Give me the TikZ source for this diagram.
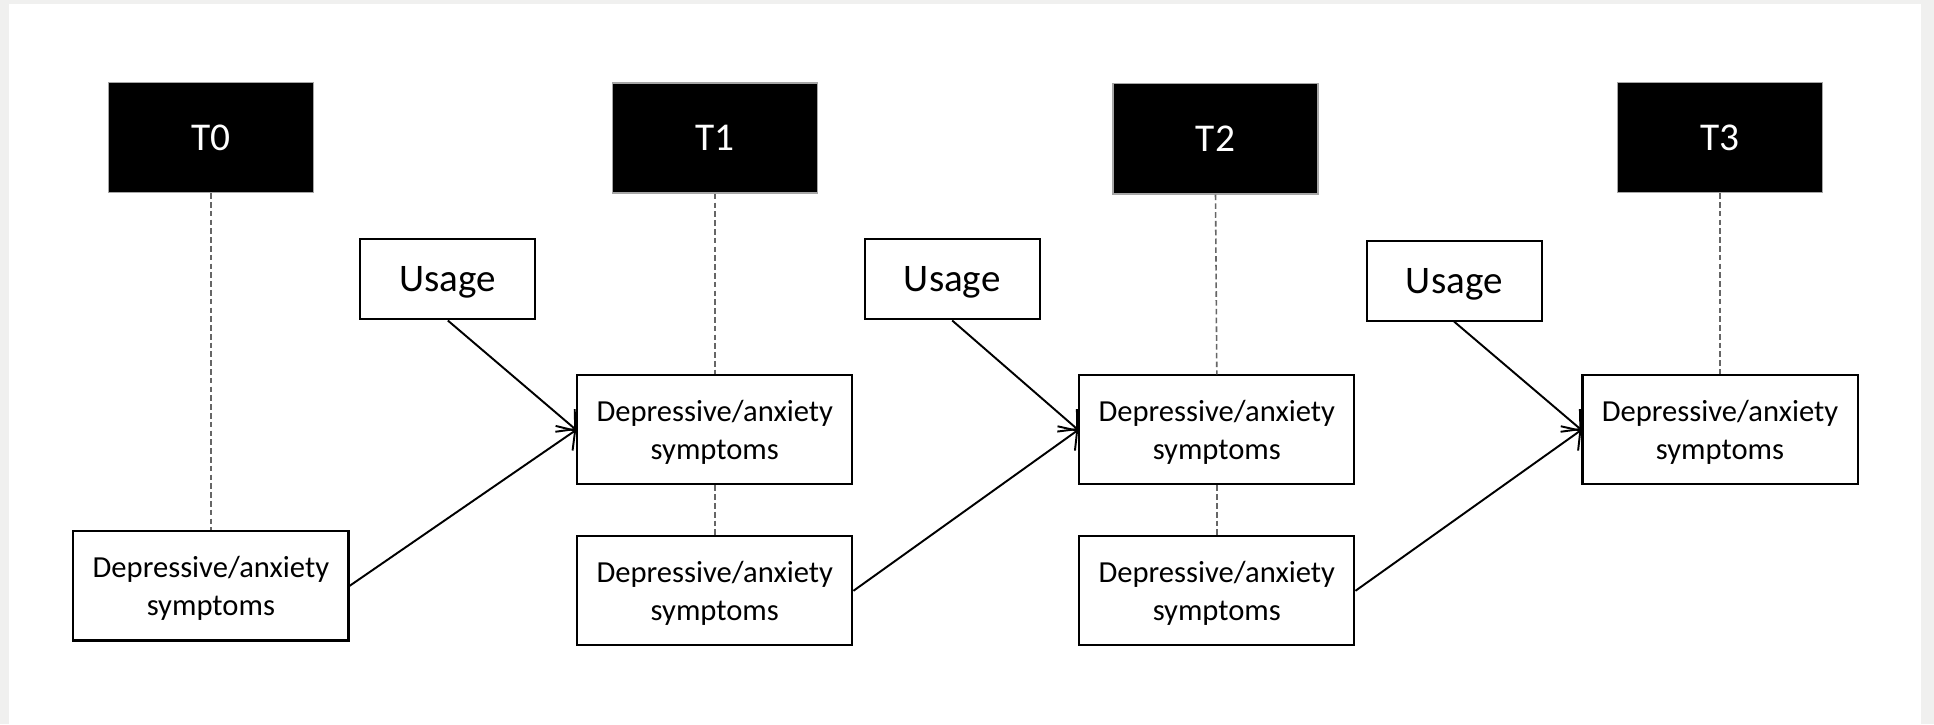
\documentclass[tikz,border=0pt]{standalone}
\usepackage{fontspec}
\setmainfont{Carlito}
\usetikzlibrary{arrows.meta}
\definecolor{pagegrey}{HTML}{F0F0EF}
\definecolor{dashgrey}{HTML}{666666}
\tikzset{
  tbox/.style={draw=gray!70, fill=black, text=white, line width=0.4pt,
    minimum width=2.05cm, minimum height=1.10cm, inner sep=0pt,
    font=\fontsize{11.2}{13}\selectfont},
  ubox/.style={draw=black, fill=white, line width=0.6pt,
    minimum width=1.75cm, minimum height=0.80cm, inner sep=0pt, text depth=0pt,
    font=\fontsize{11.1}{13}\selectfont},
  sbox/.style={draw=black, fill=white, line width=0.6pt, align=center,
    minimum width=2.75cm, minimum height=1.09cm, inner sep=0pt, text depth=0pt,
    font=\fontsize{8.7}{10.8}\selectfont},
  dashconn/.style={draw=dashgrey, line width=0.45pt, dash pattern=on 1.6pt off 0.9pt},
  arrconn/.style={draw=black, line width=0.55pt, -{Straight Barb[length=3.8pt,width=8.5pt]}}
}
\begin{document}
\begin{tikzpicture}[x=0.01cm, y=-0.01cm]
  % page background
  \fill[pagegrey] (0,0) rectangle (1934,724);
  \fill[white] (9,4) rectangle (1921,724);
  \useasboundingbox (0,0) rectangle (1934,724);

  % time points
  \node[tbox] (t0) at (210.9,137.5) {T0};
  \node[tbox] (t1) at (714.8,138.1) {T1};
  \node[tbox] (t2) at (1215.5,138.8) {T2};
  \node[tbox] (t3) at (1720,137.5) {T3};

  % usage boxes
  \node[ubox] (u1) at (447.8,279.4) {Usage};
  \node[ubox] (u2) at (952.2,279.4) {Usage};
  \node[ubox] (u3) at (1454.2,280.6) {Usage};

  % symptom boxes
  \node[sbox] (s0)  at (210.9,585.9) {Depressive/anxiety\\symptoms};
  \node[sbox] (s1a) at (714.8,429.9) {Depressive/anxiety\\symptoms};
  \node[sbox] (s1b) at (714.8,590.8) {Depressive/anxiety\\symptoms};
  \node[sbox] (s2a) at (1216.8,429.9) {Depressive/anxiety\\symptoms};
  \node[sbox] (s2b) at (1216.8,590.8) {Depressive/anxiety\\symptoms};
  \node[sbox] (s3a) at (1720,429.9) {Depressive/anxiety\\symptoms};

  % dashed time links
  \draw[dashconn] (t0.south) -- (s0.north);
  \draw[dashconn] (t1.south) -- (s1a.north);
  \draw[dashconn] (s1a.south) -- (s1b.north);
  \draw[dashconn] (t2.south) -- (s2a.north);
  \draw[dashconn] (s2a.south) -- (s2b.north);
  \draw[dashconn] (t3.south) -- (s3a.north);

  % arrows
  \draw[arrconn] (u1.south) -- (s1a.west);
  \draw[arrconn] (s0.east) -- (s1a.west);
  \draw[arrconn] (u2.south) -- (s2a.west);
  \draw[arrconn] (s1b.east) -- (s2a.west);
  \draw[arrconn] (u3.south) -- (s3a.west);
  \draw[arrconn] (s2b.east) -- (s3a.west);
\end{tikzpicture}
\end{document}
